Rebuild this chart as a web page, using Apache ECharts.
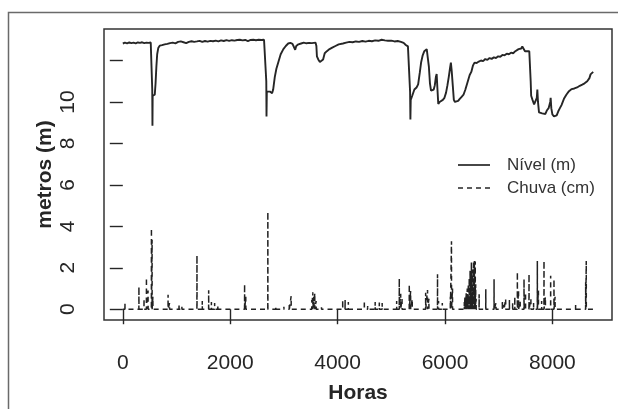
<!DOCTYPE html>
<html>
<head>
<meta charset="utf-8">
<script src="https://cdn.jsdelivr.net/npm/echarts@6/dist/echarts.min.js"></script>
<style>
  html, body { margin: 0; padding: 0; background: #ffffff; }
  #chart { width: 618px; height: 409px; }
</style>
</head>
<body>
<div id="chart"></div>
<script>
// Nível do rio (m) ao longo do ano, em horas
const nivelHoras = [
  0, 40, 80, 120, 160, 200, 240, 280, 320, 360, 400, 440, 480, 520, 540,
  548, 552, 556, 575, 595, 610, 625, 640, 660, 690, 730, 780, 830, 880, 930, 980,
  1030, 1080, 1130, 1180, 1230, 1280, 1330, 1380, 1430, 1480, 1530, 1580, 1630, 1680,
  1730, 1780, 1830, 1880, 1930, 1980, 2030, 2080, 2130, 2180, 2230, 2280, 2330, 2380,
  2430, 2480, 2530, 2580, 2630, 2665,
  2672, 2676, 2682, 2710, 2740, 2780, 2800, 2830, 2860, 2900, 2940, 2990, 3035, 3080,
  3120, 3160, 3190, 3210, 3230, 3270, 3320, 3370, 3420, 3470, 3520, 3590,
  3605, 3615, 3640, 3670, 3700, 3730, 3760, 3800, 3850, 3900, 3960, 4020, 4100, 4160,
  4220, 4280, 4340, 4400, 4460, 4520, 4580, 4640, 4700, 4760, 4820, 4880, 4940, 5000,
  5060, 5120, 5180, 5230, 5270, 5310, 5340,
  5350, 5356, 5362, 5390, 5430, 5470, 5500, 5530, 5555, 5585, 5615, 5660, 5680, 5700,
  5720, 5740, 5765, 5790, 5810, 5830, 5845, 5860, 5875, 5900, 5930, 5960, 5990, 6020,
  6045, 6070, 6095, 6110, 6125, 6145, 6165, 6185, 6215, 6245, 6275, 6310, 6345, 6380,
  6420, 6460, 6490, 6520, 6550, 6590, 6630, 6670, 6710, 6750, 6790, 6830, 6870, 6910,
  6950, 6990, 7030, 7070, 7110, 7150, 7190, 7230, 7270, 7310, 7340, 7370, 7400, 7420,
  7440, 7460, 7490, 7530, 7570, 7590,
  7596, 7605, 7630, 7660, 7690, 7710, 7720, 7732, 7751, 7780, 7810, 7840, 7870, 7900,
  7930, 7960, 7968, 7980, 8000, 8030, 8050, 8080, 8110, 8140, 8170, 8215, 8260, 8309,
  8360, 8410, 8460, 8510, 8556, 8600, 8649, 8690, 8711, 8730, 8745, 8760
];
const nivelMetros = [
  12.82, 12.86, 12.83, 12.87, 12.84, 12.86, 12.83, 12.87, 12.85, 12.88, 12.84, 12.86, 12.85, 12.87, 12.86,
  10.6, 8.85, 10.3, 10.25, 10.35, 10.9, 11.7, 12.3, 12.6, 12.72, 12.74, 12.78, 12.8, 12.84, 12.86, 12.83,
  12.9, 12.92, 12.88, 12.84, 12.9, 12.93, 12.9, 12.92, 12.95, 12.9, 12.94, 12.91, 12.95, 12.93,
  12.96, 12.92, 12.97, 12.94, 12.98, 12.95, 12.98, 12.96, 12.99, 13.0, 12.97, 12.99, 12.94, 12.99,
  13.0, 12.98, 13.0, 12.99, 13.0, 13.0,
  11.0, 9.3, 10.5, 10.55, 10.5, 10.42, 10.6, 11.2, 11.6, 11.95, 12.3, 12.55, 12.7, 12.82,
  12.85, 12.8, 12.72, 12.52, 12.7, 12.78, 12.82, 12.86, 12.83, 12.85, 12.84, 12.86,
  12.7, 12.2, 12.05, 11.93, 11.95, 12.05, 12.35, 12.45, 12.55, 12.62, 12.7, 12.78, 12.82, 12.86,
  12.9, 12.88, 12.92, 12.9, 12.94, 12.91, 12.95, 12.93, 12.97, 12.95, 13.0, 12.97, 12.95, 12.96,
  12.92, 12.94, 12.9, 12.85, 12.75, 12.68, 12.6,
  10.5, 9.15, 10.1, 10.3, 10.6, 10.7, 10.85, 11.4, 11.9, 12.25, 12.45, 12.55, 12.5, 11.7,
  10.9, 10.55, 10.6, 10.6, 10.8, 11.2, 11.35, 10.6, 9.9, 10.0, 10.05, 10.1, 10.2, 10.45,
  10.8, 11.2, 11.65, 11.9, 11.5, 10.8, 10.1, 10.0, 10.0, 10.05, 10.15, 10.25, 10.35, 10.6,
  10.95, 11.3, 11.45, 11.75, 11.9, 11.88, 11.95, 12.0, 11.97, 12.07, 12.03, 12.12, 12.08, 12.15,
  12.12, 12.2, 12.18, 12.27, 12.25, 12.33, 12.3, 12.38, 12.35, 12.45, 12.5, 12.55, 12.62, 12.58,
  12.68, 12.6, 12.45, 12.45, 12.45, 12.42,
  11.0, 10.3, 10.1, 9.88, 9.95, 10.2, 10.6, 10.0, 9.5, 9.55, 9.45, 9.5, 9.42, 9.6,
  9.7, 10.0, 10.2, 9.7, 9.4, 9.3, 9.22, 9.35, 9.55, 9.7, 9.85, 10.15, 10.35, 10.52,
  10.62, 10.65, 10.7, 10.78, 10.84, 10.9, 11.0, 11.15, 11.33, 11.4, 11.35, 11.45
];

// Chuva (cm): horas com precipitação e respectivas alturas
const chuvaHoras = [
  40, 300, 395, 440, 470, 533, 545, 560, 843, 870, 1047, 1100, 1381, 1480, 1599, 1650,
  1710, 1770, 2268, 2290, 2701, 2850, 3000, 3100, 3135, 3520, 3538, 3555, 3575, 3600,
  3700, 4095, 4140, 4200, 4498, 4560, 4700, 4777, 4830, 5100, 5149, 5175, 5200, 5335,
  5360, 5390, 5640, 5675, 5700, 5861, 5880, 5950, 6100, 6121, 6140,
  6360, 6372, 6385, 6395, 6405, 6415, 6425, 6435, 6445, 6452, 6460, 6468, 6476, 6484,
  6492, 6500, 6508, 6516, 6524, 6532, 6540, 6548, 6556, 6564, 6572, 6580,
  6636, 6760, 6914, 6950, 7069, 7100, 7130, 7200, 7260, 7300, 7348, 7370, 7400, 7472,
  7500, 7565, 7600, 7650, 7720, 7740, 7800, 7844, 7870, 7968, 8030, 8050, 8250, 8433,
  8620, 8631
];
const chuvaCm = [
  0.3, 1.08, 0.5, 1.52, 0.9, 3.9, 3.35, 0.6, 0.7, 0.3, 0.25, 0.12, 2.6, 0.4, 0.92, 0.35,
  0.3, 0.2, 1.2, 0.6, 4.7, 0.15, 0.12, 0.2, 0.63, 0.45, 0.82, 0.6, 0.78, 0.4,
  0.1, 0.45, 0.45, 0.35, 0.42, 0.15, 0.35, 0.32, 0.3, 0.4, 1.48, 0.75, 0.5, 1.2,
  0.88, 0.5, 0.8, 0.93, 0.5, 1.69, 0.4, 0.3, 0.6, 3.28, 1.0,
  0.35, 0.6, 0.45, 0.8, 0.5, 1.0, 0.7, 1.2, 0.6, 1.5, 0.9, 1.85, 0.7, 1.6,
  2.25, 1.1, 1.9, 0.8, 2.0, 2.33, 1.3, 2.33, 0.9, 2.3, 1.2, 0.5,
  0.72, 0.96, 1.45, 0.3, 0.4, 0.2, 0.5, 0.45, 0.3, 0.6, 1.8, 0.9, 0.4, 1.45,
  0.8, 1.69, 0.5, 0.3, 2.33, 0.9, 0.4, 2.33, 0.6, 1.61, 1.45, 0.6, 0.08, 0.2,
  1.3, 2.33
];

// Marcas dos eixos
const xTicks = [0, 2000, 4000, 6000, 8000];
const yTicks = [0, 2, 4, 6, 8, 10, 12];
const yLabels = [0, 2, 4, 6, 8, 10];
const legendNames = ['Nível (m)', 'Chuva (cm)'];

const nivelData = nivelHoras.map((h, i) => [h, nivelMetros[i]]);

// Série de chuva como linha horária: zero, pico, zero
const chuvaData = [[0, 0]];
chuvaHoras.forEach((h, i) => {
  chuvaData.push([h - 1, 0], [h, chuvaCm[i]], [h + 1, 0]);
});
chuvaData.push([8760, 0]);

const ink = '#262626';
const font = '"Liberation Sans", Arial, Helvetica, sans-serif';
const rainDash = [5, 4];

// Legenda sem moldura: amostra de linha + texto
const legendX = 458, legendY = 165, legendRow = 23;
const legendGraphics = [];
legendNames.forEach((name, i) => {
  const y = legendY + i * legendRow;
  legendGraphics.push({
    type: 'line',
    shape: { x1: legendX, y1: y, x2: legendX + 32, y2: y },
    style: { stroke: ink, lineWidth: i === 0 ? 1.7 : 1.4, lineDash: i === 0 ? null : rainDash },
    silent: true
  });
  legendGraphics.push({
    type: 'text',
    x: legendX + 49, y: y,
    style: { text: name, fill: '#333', font: '17px ' + font, verticalAlign: 'middle', align: 'left' },
    silent: true
  });
});

const chart = echarts.init(document.getElementById('chart'), null, { renderer: 'canvas' });
chart.setOption({
  animation: false,
  backgroundColor: '#ffffff',
  textStyle: { fontFamily: font },
  grid: {
    left: 104, top: 29, right: 6, bottom: 88,
    show: true, borderColor: '#333', borderWidth: 1.5, backgroundColor: 'transparent'
  },
  graphic: [{
    type: 'rect',
    shape: { x: 8.5, y: 12.5, width: 700, height: 500 },
    style: { fill: 'none', stroke: '#6a6a6a', lineWidth: 1.5 },
    silent: true
  }].concat(legendGraphics),
  xAxis: {
    type: 'value', min: -350.4, max: 9110.4,
    axisLine: { show: false },
    splitLine: { show: false },
    axisTick: { show: true, inside: false, length: 15, customValues: xTicks,
                lineStyle: { color: ink, width: 1.4 } },
    axisLabel: { customValues: xTicks, margin: 33, fontSize: 21, color: ink, fontFamily: font,
                 formatter: v => String(v) },
    name: 'Horas', nameLocation: 'middle', nameGap: 63, nameMoveOverlap: false,
    nameTextStyle: { fontSize: 21, fontWeight: 'bold', color: ink, fontFamily: font }
  },
  yAxis: {
    type: 'value', min: -0.52, max: 13.52,
    axisLine: { show: false },
    splitLine: { show: false },
    axisTick: { show: true, inside: false, length: 13, customValues: yTicks,
                lineStyle: { color: ink, width: 1.4 } },
    axisLabel: { customValues: yLabels, rotate: 90, margin: 25, fontSize: 21, color: ink, fontFamily: font,
                 formatter: v => String(v) },
    name: 'metros (m)', nameLocation: 'middle', nameRotate: 90, nameGap: 48, nameMoveOverlap: false,
    nameTextStyle: { fontSize: 21, fontWeight: 'bold', color: ink, fontFamily: font }
  },
  series: [
    {
      name: legendNames[0], type: 'line', data: nivelData,
      symbol: 'none', sampling: null,
      lineStyle: { color: ink, width: 1.9 }, itemStyle: { color: ink }
    },
    {
      name: legendNames[1], type: 'line', data: chuvaData,
      symbol: 'none',
      lineStyle: { color: '#222', width: 1.5, type: rainDash }, itemStyle: { color: '#222' }
    }
  ]
});
</script>
</body>
</html>
